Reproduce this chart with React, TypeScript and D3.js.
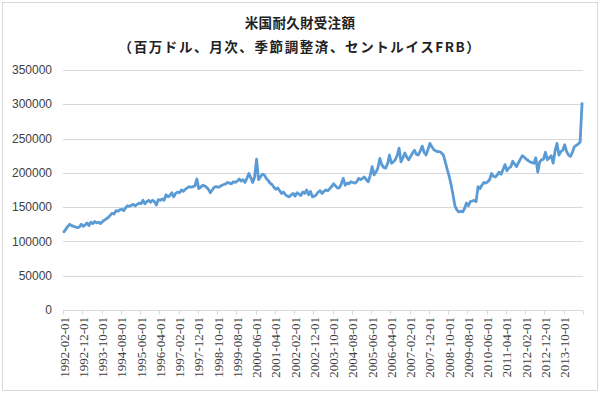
import * as d3 from "d3";
import { useEffect, useRef } from "react";

// monthly durable goods orders, 1992-02 .. 2014-07 (millions of USD)
const y1992 = [114000, 118000, 122000, 125000, 123000, 122000, 121000, 120000, 121000, 125000, 122000];
const y1993 = [124000, 127000, 123000, 128000, 126000, 129000, 127000, 128000, 126000, 129000, 131000, 133000];
const y1994 = [135000, 138000, 141000, 140000, 145000, 144000, 146000, 147000, 145000, 149000, 152000, 151000];
const y1995 = [153000, 154000, 152000, 154000, 156000, 155000, 160000, 155000, 158000, 160000, 157000, 160000];
const y1996 = [158000, 153000, 161000, 160000, 162000, 160000, 168000, 165000, 167000, 171000, 165000, 170000];
const y1997 = [172000, 171000, 175000, 173000, 176000, 178000, 180000, 179000, 180000, 181000, 191000, 177000];
const y1998 = [179000, 182000, 181000, 179000, 176000, 171000, 175000, 179000, 180000, 179000, 180000, 182000];
const y1999 = [183000, 184000, 186000, 185000, 184000, 187000, 186000, 188000, 191000, 188000, 190000, 186000];
const y2000 = [192000, 199000, 193000, 186000, 194000, 220000, 190000, 194000, 198000, 197000, 192000, 189000];
const y2001 = [185000, 183000, 179000, 176000, 178000, 174000, 170000, 172000, 168000, 166000, 165000, 168000];
const y2002 = [170000, 166000, 171000, 169000, 167000, 172000, 170000, 175000, 168000, 173000, 165000, 166000];
const y2003 = [168000, 172000, 174000, 170000, 173000, 175000, 174000, 177000, 180000, 184000, 181000, 178000];
const y2004 = [178000, 184000, 192000, 182000, 185000, 184000, 187000, 186000, 185000, 187000, 192000, 190000];
const y2005 = [192000, 194000, 190000, 187000, 196000, 209000, 197000, 201000, 207000, 221000, 212000, 208000];
const y2006 = [207000, 213000, 226000, 214000, 216000, 219000, 225000, 236000, 216000, 222000, 229000, 223000];
const y2007 = [219000, 224000, 229000, 233000, 227000, 226000, 232000, 239000, 230000, 226000, 234000, 243000];
const y2008 = [238000, 234000, 232000, 231000, 231000, 229000, 226000, 216000, 205000, 195000, 183000, 168000];
const y2009 = [152000, 146000, 143000, 144000, 143000, 148000, 156000, 152000, 158000, 159000, 160000, 158000];
const y2010 = [180000, 177000, 182000, 186000, 185000, 187000, 190000, 199000, 195000, 194000, 197000, 201000];
const y2011 = [198000, 205000, 212000, 203000, 207000, 209000, 217000, 213000, 209000, 215000, 220000, 225000];
const y2012 = [223000, 220000, 218000, 216000, 215000, 214000, 222000, 201000, 216000, 219000, 220000, 230000];
const y2013 = [219000, 222000, 225000, 214000, 232000, 243000, 226000, 231000, 233000, 241000, 231000, 226000];
const y2014 = [224000, 230000, 238000, 240000, 242000, 245000, 301000];

const values = [
  ...y1992, ...y1993, ...y1994, ...y1995, ...y1996, ...y1997, ...y1998, ...y1999,
  ...y2000, ...y2001, ...y2002, ...y2003, ...y2004, ...y2005, ...y2006, ...y2007,
  ...y2008, ...y2009, ...y2010, ...y2011, ...y2012, ...y2013, ...y2014,
];

const yTicks = [0, 50000, 100000, 150000, 200000, 250000, 300000, 350000];
const titleLines = ["米国耐久財受注額", "（百万ドル、月次、季節調整済、セントルイスFRB）"];

// category labels: yyyy-mm-01 starting 1992-02
const dates = values.map((_, i) => {
  const m = i + 1; // 0-based month offset from Jan 1992
  const y = 1992 + Math.floor(m / 12);
  const mm = (m % 12) + 1;
  return `${y}-${String(mm).padStart(2, "0")}-01`;
});

const W = 603;
const H = 395;

export default function App() {
  const ref = useRef<SVGSVGElement>(null);

  useEffect(() => {
    const svg = d3.select(ref.current);
    svg.selectAll("*").remove();

    const left = 63, right = 583, top = 70, bottom = 310;

    const x = d3.scaleBand<number>()
      .domain(d3.range(values.length))
      .range([left, right]);
    const y = d3.scaleLinear().domain([0, 350000]).range([bottom, top]);

    svg.append("rect")
      .attr("x", 2.5).attr("y", 2.5)
      .attr("width", 595).attr("height", 388)
      .attr("fill", "white")
      .attr("stroke", "#d9d9d9");

    svg.append("g")
      .selectAll("text")
      .data(titleLines)
      .enter()
      .append("text")
      .attr("x", 300)
      .attr("y", (_, i) => 28 + i * 24)
      .attr("text-anchor", "middle")
      .attr("font-family", "'Noto Sans CJK JP', sans-serif")
      .attr("font-weight", "bold")
      .attr("font-size", "13.5px")
      .attr("letter-spacing", (_, i) => (i === 1 ? "1.6px" : "0.3px"))
      .attr("fill", "#222")
      .text(d => d);

    // grid
    svg.append("g")
      .selectAll("line")
      .data(yTicks.filter(t => t > 0))
      .enter()
      .append("line")
      .attr("x1", left).attr("x2", right)
      .attr("y1", d => Math.round(y(d)) + 0.5)
      .attr("y2", d => Math.round(y(d)) + 0.5)
      .attr("stroke", "#d9d9d9");

    svg.append("g")
      .selectAll("text")
      .data(yTicks)
      .enter()
      .append("text")
      .attr("x", 52)
      .attr("y", d => y(d))
      .attr("dy", "0.35em")
      .attr("text-anchor", "end")
      .attr("font-family", "'Liberation Sans', Arial, sans-serif")
      .attr("font-size", "12px")
      .attr("fill", "#404040")
      .text(d => d);

    // baseline + ticks
    const base = Math.round(y(0)) + 0.5;
    svg.append("line")
      .attr("x1", left).attr("x2", right)
      .attr("y1", base).attr("y2", base)
      .attr("stroke", "#d9d9d9");

    const labelIdx = d3.range(0, values.length, 10);
    svg.append("g")
      .selectAll("line")
      .data([...labelIdx, values.length])
      .enter()
      .append("line")
      .attr("x1", d => Math.round(left + d * x.step()) + 0.5)
      .attr("x2", d => Math.round(left + d * x.step()) + 0.5)
      .attr("y1", base).attr("y2", base + 4)
      .attr("stroke", "#d9d9d9");

    svg.append("g")
      .selectAll("text")
      .data(labelIdx)
      .enter()
      .append("text")
      .attr("transform", d => `translate(${(x(d) ?? 0) + x.bandwidth() / 2},317) rotate(-90)`)
      .attr("dy", "0.35em")
      .attr("text-anchor", "end")
      .attr("font-family", "'Liberation Serif', serif")
      .attr("font-size", "13px")
      .attr("fill", "#404040")
      .text(d => dates[d]);

    const line = d3.line<number>()
      .x((_, i) => (x(i) ?? 0) + x.bandwidth() / 2)
      .y(d => y(d));

    svg.append("path")
      .datum(values)
      .attr("d", line)
      .attr("fill", "none")
      .attr("stroke", "#5b9bd5")
      .attr("stroke-width", 2.8)
      .attr("stroke-linejoin", "round")
      .attr("stroke-linecap", "round");
  }, []);

  return (
    <svg
      ref={ref}
      width={W}
      height={H}
      style={{ position: "absolute", left: 0, top: 0, display: "block" }}
    />
  );
}
